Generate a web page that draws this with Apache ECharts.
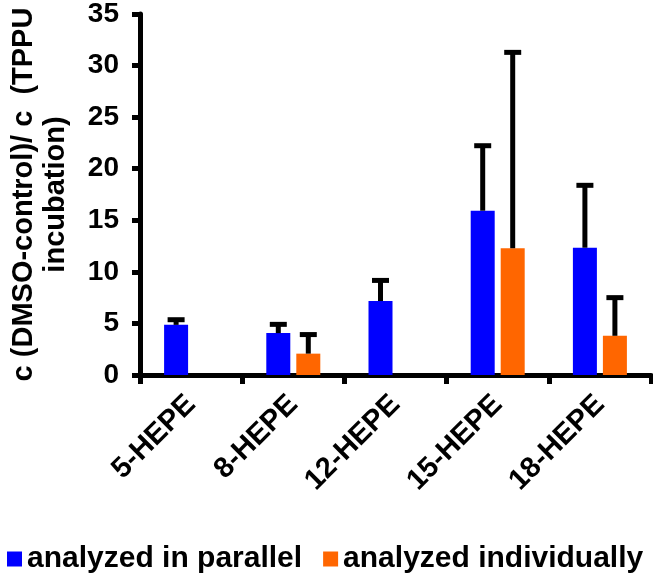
<!DOCTYPE html>
<html>
<head>
<meta charset="utf-8">
<script src="https://cdn.jsdelivr.net/npm/echarts@6/dist/echarts.min.js"></script>
<style>
html,body{margin:0;padding:0;background:#fff;}
#chart{width:653px;height:575px;}
</style>
</head>
<body>
<div id="chart"></div>
<script>
const categories = ['5-HEPE', '8-HEPE', '12-HEPE', '15-HEPE', '18-HEPE'];
const parallelValues = [4.86, 4.06, 7.17, 15.93, 12.34];
const parallelErrors = [0.5, 0.85, 2.0, 6.3, 6.05];
const individualValues = [null, 2.07, null, 12.28, 3.8];
const individualErrors = [null, 1.85, null, 19.0, 3.7];
const yTicks = [0, 5, 10, 15, 20, 25, 30, 35];
const seriesNames = ['analyzed in parallel', 'analyzed individually'];

const FONT = '"Liberation Sans", Arial, sans-serif';
const BAR_W = 24;
const GAP_PX = 6;
const OFFSET = (BAR_W + GAP_PX) / 2;

function errData(vals, errs) {
  const out = [];
  vals.forEach((v, i) => { if (v != null) out.push([i, v, errs[i]]); });
  return out;
}

function errRender(sign) {
  return function (params, api) {
    const i = api.value(0);
    const v = api.value(1);
    const e = api.value(2);
    const base = api.coord([i, v]);
    const top = api.coord([i, v + e]);
    const x = base[0] + sign * OFFSET;
    return {
      type: 'group',
      children: [
        { type: 'line', shape: { x1: x, y1: base[1], x2: x, y2: top[1] }, style: { stroke: '#000', lineWidth: 5 } },
        { type: 'line', shape: { x1: x - 8.5, y1: top[1], x2: x + 8.5, y2: top[1] }, style: { stroke: '#000', lineWidth: 5 } }
      ]
    };
  };
}

const chart = echarts.init(document.getElementById('chart'), null, { renderer: 'canvas' });
chart.setOption({
  animation: false,
  backgroundColor: '#fff',
  grid: { left: 131, right: 2, top: 12, bottom: 200, containLabel: false },
  legend: {
    data: seriesNames,
    left: 7, top: 544,
    width: 646,
    padding: 0,
    itemWidth: 15, itemHeight: 15, itemGap: 21,
    icon: 'rect',
    textStyle: { fontFamily: FONT, fontWeight: 'bold', fontSize: 30, color: '#000' }
  },
  xAxis: {
    type: 'category',
    data: categories,
    boundaryGap: true,
    axisLine: { lineStyle: { color: '#000', width: 5 } },
    axisTick: { show: true, length: 9, lineStyle: { color: '#000', width: 5 } },
    axisLabel: { rotate: 45, margin: 25, interval: 0, color: '#000', fontFamily: FONT, fontWeight: 'bold', fontSize: 29 }
  },
  yAxis: {
    type: 'value',
    min: yTicks[0], max: yTicks[yTicks.length - 1], interval: 5,
    name: 'c (DMSO-control)/ c  (TPPU\nincubation)',
    nameLocation: 'middle',
    nameRotate: 90,
    nameGap: 68,
    nameTextStyle: { fontFamily: FONT, fontWeight: 'bold', fontSize: 29, color: '#000', lineHeight: 32 },
    axisLine: { show: true, lineStyle: { color: '#000', width: 5 } },
    axisTick: { show: true, length: 8, lineStyle: { color: '#000', width: 5 } },
    splitLine: { show: false },
    axisLabel: { margin: 21, color: '#000', fontFamily: FONT, fontWeight: 'bold', fontSize: 28 }
  },
  series: [
    { name: seriesNames[0], type: 'bar', data: parallelValues, barWidth: BAR_W, barGap: '25%', itemStyle: { color: '#0000FF' }, z: 2 },
    { name: seriesNames[1], type: 'bar', data: individualValues, barWidth: BAR_W, barGap: '25%', itemStyle: { color: '#FF6600' }, z: 2 },
    { name: 'err1', type: 'custom', data: errData(parallelValues, parallelErrors), renderItem: errRender(-1), z: 3, silent: true },
    { name: 'err2', type: 'custom', data: errData(individualValues, individualErrors), renderItem: errRender(1), z: 3, silent: true }
  ]
});
</script>
</body>
</html>
